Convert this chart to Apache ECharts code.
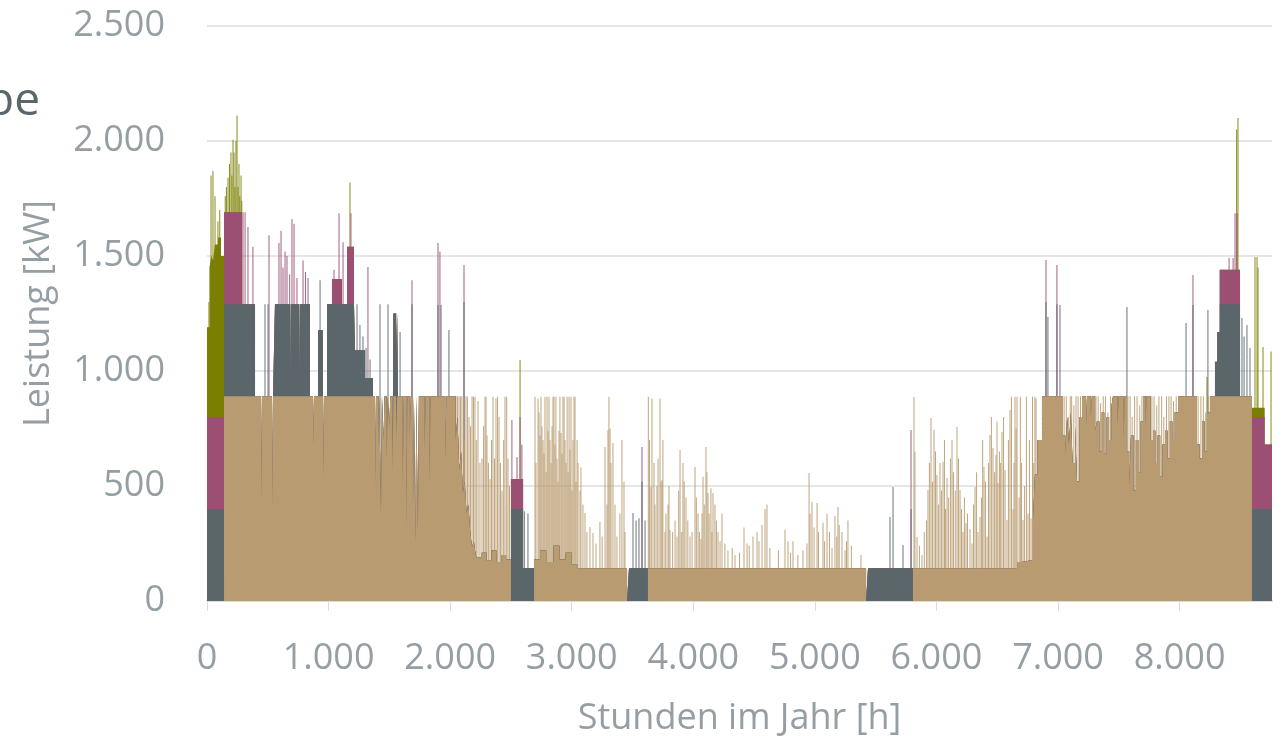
<!DOCTYPE html>
<html><head><meta charset="utf-8">
<script src="https://cdn.jsdelivr.net/npm/echarts@6/dist/echarts.min.js"></script>
<style>html,body{margin:0;padding:0;background:#fff;}#c{width:1284px;height:737px;}</style>
</head><body><div id="c"></div>
<script>
// ---- axis ticks ----
const xTicks = [0,1000,2000,3000,4000,5000,6000,7000,8000];
const yTicks = [0,500,1000,1500,2000,2500];
const hoursInYear = 8760;

// ---- base levels per generator, as change points [hour, kW] (value holds until next change) ----
const tanSteps = [[0,0],[140,890],[444,410],[452,890],[535,400],[543,890],[872,670],[880,890],[954,520],[962,890],
[1382,490],[1390,890],[1411,650],[1417,890],[1431,374],[1439,890],[1452,700],[1460,890],[1478,600],[1486,890],[1500,760],[1508,890],[1525,560],[1533,890],[1556,700],[1564,890],
[1610,500],[1618,890],[1640,300],[1648,890],[1668,700],[1676,890],[1694,400],[1702,890],[1714,250],[1722,890],[1735,300],[1743,890],
[1790,650],[1798,890],[1830,500],[1838,890],[1960,600],[1968,890],
[2045,700],[2060,800],[2075,570],[2090,650],[2105,470],[2120,520],[2135,380],[2150,420],[2165,300],[2180,235],[2195,260],[2210,200],
[2221,190],[2260,210],[2300,175],[2340,220],[2380,170],[2420,200],[2460,180],[2500,0],
[2690,180],[2740,220],[2790,170],[2850,240],[2900,180],[2950,210],[3000,160],[3045,142],[3455,0],[3627,142],[5421,0],[5807,142],
[6663,170],[6700,178],[6794,350],[6810,550],[6830,700],[6868,890],
[7041,720],[7060,640],[7075,800],[7090,680],[7105,820],[7120,600],[7140,760],[7156,520],[7175,800],[7197,890],
[7230,760],[7238,890],[7270,800],[7278,890],[7305,740],[7320,780],[7340,650],[7360,820],[7380,640],[7400,800],[7420,700],[7440,850],
[7452,890],[7490,760],[7498,890],[7540,700],[7548,890],[7567,650],[7585,500],[7600,720],[7620,480],[7640,700],[7660,560],[7680,780],
[7699,890],[7720,760],[7728,890],[7760,700],[7781,740],[7800,600],[7820,720],[7840,540],[7860,680],[7880,740],[7900,620],[7920,780],[7940,700],[7960,820],
[7987,890],[8143,680],[8165,620],[8185,780],[8205,650],[8225,820],[8250,890],[8595,0]];
const graySteps = [[0,400],[395,0],[559,400],[683,0],[689,400],[757,0],[763,400],[847,0],[913,288],[954,0],
[987,400],[1217,200],[1300,80],[1365,0],[1530,360],[1571,0],[2500,400],[2600,142],[2690,0],
[3471,142],[3627,0],[5437,142],[5807,0],[8291,150],[8310,280],[8330,400],[8497,0],[8595,400]];
const mauveSteps = [[0,400],[288,0],[1028,110],[1110,0],[1152,250],[1209,0],[2500,130],[2600,0],
[8330,150],[8497,0],[8595,400],[8700,280]];
const oliveSteps = [[0,390],[20,650],[35,700],[50,680],[65,750],[90,780],[115,700],[140,0],[8595,40],[8700,0]];

// ---- single-hour peaks [hour, top of stack in kW] ----
const oliveSpikes = [[16,1300],[33,1850],[49,1870],[66,1760],[90,1650],[105,1700],[150,1760],[160,1800],[173,1840],[185,1900],[197,1950],[205,1850],[214,2005],[222,1950],[230,1800],[238,2000],[247,2110],[255,1800],[263,1900],[270,1760],[280,1850],[286,1740],
[1176,1820],[2575,1048],[8225,974],[8469,2050],[8480,2100],[8620,1496],[8637,1496],[8645,1450],[8686,1104],[8752,1085]];
const mauveSpikes = [[296,1690],[313,1690],[337,1626],[378,1540],[510,1590],[592,1556],[609,1610],[625,1450],[642,1520],[658,1500],[680,1420],[699,1660],[716,1640],[740,1404],[790,1480],[810,1430],[831,1404],
[1045,1440],[1086,1686],[1119,1560],[1184,1686],[1324,1452],[1686,1395],[1900,1556],[1916,1520],[2114,1461],
[2508,787],[2550,626],[2575,800],[2590,680],[3578,670],[5791,743],[6901,1483],[6991,1461],[8110,1417],
[8365,1404],[8390,1404],[8407,1491],[8440,1491],[8456,1686],[8473,1686]];
const graySpikes = [[477,1290],[502,1290],[930,1395],[1234,1290],[1258,1200],[1283,1150],[1308,1100],[1341,1050],[1423,1290],[1489,1290],[1588,1170],[1686,1290],
[1900,1287],[1925,1287],[1990,1178],[2114,1300],[2610,390],[2640,380],[3504,383],[3529,350],[3553,360],[3578,520],[3603,350],
[5618,365],[5643,496],[5725,243],[5791,400],[6901,1300],[6917,1235],[6991,1290],[7016,1287],[7567,1278],
[8053,1209],[8110,1287],[8233,1265],[8513,1230],[8530,1150],[8554,1200],[8579,1100]];
const tanSpikes = [[2048,890],[2060,890],[2073,890],[2085,890],[2097,890],[2110,888],[2118,700],[2130,890],[2142,888],[2155,800],[2167,760],[2180,890],[2192,888],[2204,888],[2215,700],[2229,870],[2245,600],[2262,620],[2275,760],[2287,888],[2295,888],[2303,720],[2315,600],[2328,530],[2340,700],[2352,888],[2365,620],[2377,880],[2390,888],[2402,800],[2414,600],[2426,480],[2440,700],[2451,888],[2465,888],[2476,620],[2488,500],
[2698,888],[2706,600],[2723,880],[2731,820],[2739,720],[2747,888],[2755,760],[2764,700],[2772,640],[2780,888],[2789,560],[2797,888],[2805,740],[2813,888],[2821,700],[2830,600],[2838,760],[2846,888],[2854,888],[2862,680],[2870,888],[2879,620],[2887,520],[2895,740],[2903,888],[2912,730],[2920,640],[2928,888],[2937,888],[2945,700],[2953,600],[2962,888],[2970,560],[2978,888],[2986,660],[2994,888],[3002,480],[3010,700],[3019,888],[3027,888],[3035,520],[3044,700],[3052,600],[3068,480],[3076,580],[3092,420],[3109,383],[3125,300],[3150,322],[3175,296],[3200,250],[3232,343],[3250,280],[3274,670],[3290,420],[3298,743],[3306,888],[3315,750],[3323,600],[3339,687],[3356,420],[3372,280],[3396,380],[3413,700],[3430,520],[3438,300],
[3630,888],[3640,700],[3652,496],[3660,880],[3677,600],[3685,420],[3701,500],[3710,620],[3726,880],[3735,520],[3743,526],[3750,700],[3767,300],[3775,380],[3792,420],[3800,500],[3808,310],[3830,300],[3850,350],[3866,280],[3880,480],[3891,657],[3905,300],[3915,600],[3925,520],[3940,450],[3955,350],[3973,280],[3990,300],[4014,583],[4025,450],[4039,380],[4050,300],[4063,270],[4072,380],[4080,540],[4090,420],[4104,670],[4112,560],[4121,470],[4130,380],[4145,490],[4153,300],[4162,470],[4178,420],[4190,350],[4203,300],[4220,260],[4236,380],[4260,250],[4285,220],[4320,230],[4343,200],[4380,210],[4417,320],[4442,250],[4460,240],[4491,280],[4524,300],[4540,260],[4565,330],[4590,400],[4606,420],[4630,230],[4700,220],[4754,310],[4779,260],[4800,210],[4820,260],[4860,200],[4902,220],[4935,250],[4952,557],[4960,380],[4976,430],[4993,320],[5018,426],[5030,300],[5067,340],[5080,260],[5100,380],[5120,300],[5141,230],[5165,370],[5180,280],[5190,409],[5200,330],[5223,300],[5248,220],[5260,260],[5272,350],[5300,240],[5379,200],
[5815,888],[5823,650],[5840,278],[5860,240],[5881,200],[5900,300],[5918,350],[5930,483],[5942,600],[5955,796],[5967,520],[5980,743],[5992,650],[6004,548],[6016,420],[6029,600],[6041,480],[6054,604],[6066,700],[6075,400],[6087,535],[6100,450],[6115,620],[6128,700],[6140,560],[6155,480],[6169,757],[6181,620],[6194,483],[6206,400],[6218,300],[6230,450],[6243,339],[6255,380],[6276,313],[6292,250],[6305,420],[6317,496],[6330,560],[6342,300],[6358,365],[6370,450],[6380,700],[6391,583],[6403,520],[6416,280],[6428,600],[6440,722],[6452,800],[6465,665],[6478,560],[6490,635],[6498,780],[6506,513],[6518,650],[6528,600],[6539,735],[6552,800],[6564,570],[6580,352],[6592,700],[6605,830],[6617,888],[6630,400],[6638,600],[6646,888],[6655,750],[6663,888],[6680,450],[6690,888],[6700,600],[6712,352],[6725,500],[6740,888],[6753,380],[6765,700],[6778,360],[6790,888],[6800,600],[6810,888],[6819,880],
[7050,890],[7068,890],[7085,800],[7100,890],[7112,890],[7130,850],[7148,890],[7165,890],[7185,890],[7215,890],[7262,890],[7295,890],[7312,890],[7330,890],[7350,860],[7372,890],[7390,890],[7410,820],[7432,890],[7480,890],[7520,890],[7575,890],[7593,890],[7610,800],[7630,890],[7650,890],[7672,850],[7690,890],[7712,890],[7750,890],[7772,890],[7790,890],[7812,850],[7830,890],[7852,890],[7870,800],[7892,890],[7912,890],[7930,890],[7950,870],[7972,890],
[8152,890],[8175,890],[8195,890],[8215,820],[8240,890]];

const colors = {tan:'#b89b70', gray:'#5b666b', mauve:'#9a4f73', olive:'#7a7f00'};
const labelColor = '#959fa3';
const FONT = "'Open Sans', 'Noto Sans', sans-serif";

// ---- decode change points onto a common hour grid and stack ----
const allSteps = [tanSteps, graySteps, mauveSteps, oliveSteps];
const gridSet = new Set([hoursInYear]);
allSteps.forEach(s => s.forEach(p => gridSet.add(p[0])));
const hours = Array.from(gridSet).sort((a,b)=>a-b);
function decode(steps){
  const out=[]; let j=0;
  hours.forEach(h=>{ while(j+1<steps.length && steps[j+1][0]<=h) j++; out.push(steps[j][0]<=h?steps[j][1]:0); });
  return out;
}
const layerVals = allSteps.map(decode);
const cum = []; let run = hours.map(()=>0);
layerVals.forEach(v=>{ run = run.map((r,i)=>r+v[i]); cum.push(run.slice()); });

const fmt = v => String(v).replace(/\B(?=(\d{3})+(?!\d))/g,'.');
const names = ['tan','gray','mauve','olive'];
const series = [];
// peaks behind the stacked areas, in reverse stack order
[[oliveSpikes,'olive',1],[mauveSpikes,'mauve',2],[graySpikes,'gray',3],[tanSpikes,'tan',4]].forEach(([d,c,z])=>{
  series.push({type:'bar', data:d, barWidth:1, barGap:'-100%', z:z, silent:true,
    itemStyle:{color:colors[c], opacity:0.9}});
});
// cumulative areas: top layer first, bottom layer last (drawn on top)
for(let k=3;k>=0;k--){
  series.push({type:'line', step:'end', symbol:'none', silent:true, z:10+(3-k),
    data: hours.map((h,i)=>[h, cum[k][i]]),
    lineStyle:{width:0}, itemStyle:{color:colors[names[k]]},
    areaStyle:{color:colors[names[k]], opacity:1}});
}

const chart = echarts.init(document.getElementById('c'));
chart.setOption({
  animation:false,
  textStyle:{fontFamily:FONT},
  grid:{left:207, right:12, top:26, bottom:136, containLabel:false, outerBoundsMode:'none'},
  graphic:[{type:'text', right: 1244, top: 79, style:{text:'be', fontSize:46, fontFamily:FONT, fill:'#5b666b'}}],
  xAxis:{type:'value', min:0, max:hoursInYear, interval:1000,
    name:'Stunden im Jahr [h]', nameLocation:'middle', nameGap:100,
    nameTextStyle:{fontSize:36, color:labelColor, fontFamily:FONT},
    axisLine:{show:true, lineStyle:{color:'#dcdcdc', width:2}},
    axisTick:{show:true, length:10, lineStyle:{color:'#dcdcdc', width:1}, customValues:xTicks},
    axisLabel:{fontSize:36, color:labelColor, margin:40, formatter:fmt, customValues:xTicks},
    splitLine:{show:false}},
  yAxis:{type:'value', min:0, max:2500, interval:500,
    name:'Leistung [kW]', nameLocation:'middle', nameGap:150, nameRotate:90,
    nameTextStyle:{fontSize:36, color:labelColor, fontFamily:FONT},
    axisLine:{show:false}, axisTick:{show:false},
    axisLabel:{fontSize:36, color:labelColor, margin:42, formatter:fmt, customValues:yTicks},
    splitLine:{lineStyle:{color:'#e6e6e6', width:2}}},
  series: series
});
</script></body></html>
